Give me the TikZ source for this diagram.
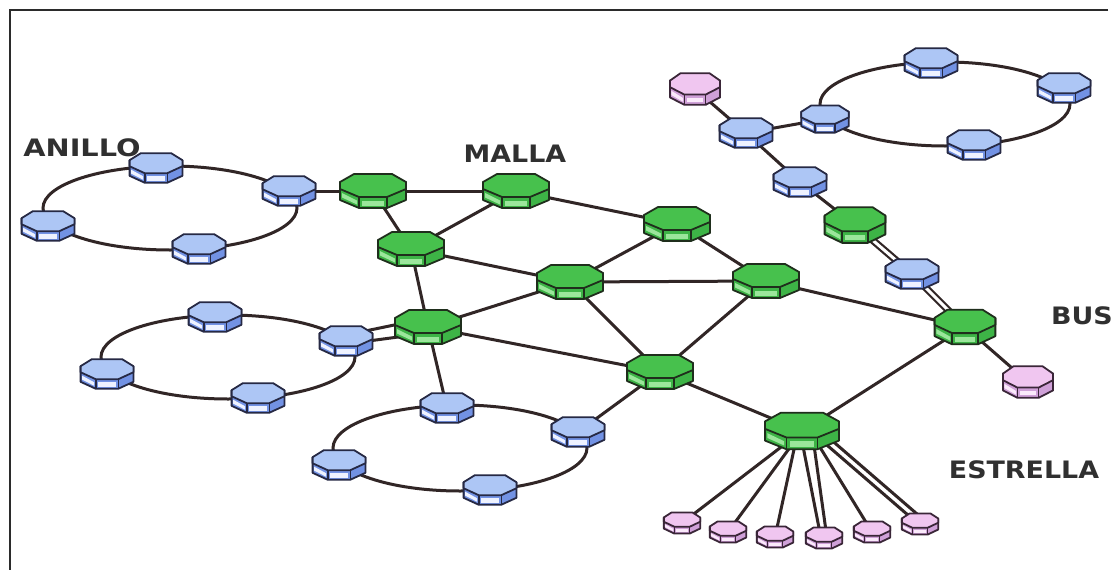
\documentclass[tikz,border=0pt]{standalone}
\usepackage{fontspec}
\setmainfont{DejaVu Sans}
\usetikzlibrary{calc}
\definecolor{edgec}{HTML}{312626}
\definecolor{framec}{HTML}{2B2B2B}
\definecolor{lblc}{HTML}{303030}
\definecolor{gtop}{HTML}{47C14D}
\definecolor{gband}{HTML}{3DB446}
\definecolor{gstripe}{HTML}{9BE69B}
\definecolor{gline}{HTML}{1F2E1C}
\definecolor{btop}{HTML}{ADC6F5}
\definecolor{bband}{HTML}{7292E4}
\definecolor{bstripe}{HTML}{EEF2FF}
\definecolor{bline}{HTML}{262944}
\definecolor{ptop}{HTML}{F0C6F0}
\definecolor{pband}{HTML}{CFA0D8}
\definecolor{pstripe}{HTML}{FBEAFB}
\definecolor{pline}{HTML}{3A2638}

\newcommand\devshape[4]{%
  \filldraw[fill=#2,draw=#4,line width=1.8pt,line join=round]
    (-33,-9) -- (33,-9) -- (33,9) -- (14,17) -- (-14,17) -- (-33,9) -- cycle;
  \fill[#3] (-11,9.5) rectangle (11,14.5);
  \fill[#3] (-31,2) -- (-16,9.5) -- (-16,13.5) -- (-31,6.5) -- cycle;
  \draw[#4,line width=1.4pt] (-14,6) -- (-14,17) (14,6) -- (14,17);
  \filldraw[fill=#1,draw=#4,line width=1.8pt,line join=round]
    (-19,-17) -- (19,-17) -- (33,-9) -- (33,-2) -- (14,6) -- (-14,6) -- (-33,-2) -- (-33,-9) -- cycle;
}
\newcommand\lab[2][1.12]{\scalebox{#1}[1]{#2}}

\tikzset{
  gdev/.pic={\devshape{gtop}{gband}{gstripe}{gline}},
  bdev/.pic={\devshape{btop}{bband}{bstripe}{bline}},
  pdev/.pic={\devshape{ptop}{pband}{pstripe}{pline}},
  edge/.style={draw=edgec,line width=3pt},
  ring/.style={draw=edgec,line width=3pt},
  dbl/.style={draw=edgec,line width=2.2pt,double=white,double distance=3pt},
  lbl/.style={font=\fontsize{24}{24}\selectfont\bfseries,text=lblc,inner sep=0pt},
  bsz/.style={xscale=0.8,yscale=0.87},
  psz/.style={xscale=0.55,yscale=0.62},
}

\begin{document}
\begin{tikzpicture}[x=1pt,y=-1pt]
\useasboundingbox (0,0) rectangle (1117,570);
\fill[white] (0,0) rectangle (1117,570);
\draw[framec,line width=2.5pt] (1108,10) -- (10,10) -- (10,570);

% coordinates
\coordinate (ca) at (170,208);
\coordinate (cb) at (228,357);
\coordinate (cc) at (460,448);
\coordinate (cd) at (945,104);

\coordinate (ra1) at (156,168);
\coordinate (ra2) at (289,191);
\coordinate (ra3) at (48,226);
\coordinate (ra4) at (199,249);

\coordinate (rb1) at (215,317);
\coordinate (rb2) at (346,341);
\coordinate (rb3) at (107,374);
\coordinate (rb4) at (258,398);

\coordinate (rc1) at (447,408);
\coordinate (rc2) at (578,432);
\coordinate (rc3) at (339,465);
\coordinate (rc4) at (490,490);

\coordinate (rd1) at (931,63);
\coordinate (rd2) at (1064,88);
\coordinate (rd3) at (825,119);
\coordinate (rd4) at (974,145);

\coordinate (g1) at (373,191);
\coordinate (g2) at (516,191);
\coordinate (g3) at (677,224);
\coordinate (g4) at (411,249);
\coordinate (g5) at (570,282);
\coordinate (g6) at (766,281);
\coordinate (g7) at (428,327);
\coordinate (g8) at (660,372);
\coordinate (g9) at (965,327);
\coordinate (g10) at (802,431);
\coordinate (g11) at (855,225);

\coordinate (pb1) at (695,89);
\coordinate (bb1) at (746,133);
\coordinate (bb2) at (800,182);
\coordinate (bb3) at (912,274);
\coordinate (pb2) at (1028,382);

\coordinate (s1) at (682,523);
\coordinate (s2) at (728,532);
\coordinate (s3) at (775,537);
\coordinate (s4) at (824,538);
\coordinate (s5) at (872,532);
\coordinate (s6) at (920,524);

% rings
\draw[ring] (ca) ellipse [x radius=127,y radius=42];
\draw[ring] (cb) ellipse [x radius=127,y radius=42];
\draw[ring] (cc) ellipse [x radius=127,y radius=43];
\draw[ring] (cd) ellipse [x radius=125,y radius=42];

% mesh
\draw[edge] (ra2) -- (g1);
\draw[edge] (g1) -- (g2);
\draw[edge] (g2) -- (g3);
\draw[edge] (g2) -- (g4);
\draw[edge] (g1) -- (g4);
\draw[edge] (g4) -- (g5);
\draw[edge] (g3) -- (g5);
\draw[edge] (g3) -- (g6);
\draw[edge] (g5) -- (g6);
\draw[edge] (g4) -- (g7);
\draw[edge] (g7) -- (g5);
\draw[edge] (g5) -- (g8);
\draw[edge] (g6) -- (g8);
\draw[edge] (g7) -- (g8);
\draw[edge] (g6) -- (g9);
\draw[edge] (g8) -- (g10);
\draw[edge] (g10) -- (g9);
\draw[edge] (g7) -- (rc1);
\draw[edge] (g8) -- (rc2);
\draw[edge] ([yshift=6pt]rb2) -- ([yshift=9pt]g7);
\draw[edge] ([yshift=-3pt]rb2) -- ([yshift=-6pt]g7);

% bus
\draw[edge] (pb1) -- (bb1);
\draw[edge] (bb1) -- (bb2);
\draw[edge] (bb1) -- (rd3);
\draw[edge] (bb2) -- (g11);
\draw[dbl] (g11) -- (bb3);
\draw[dbl] (bb3) -- (g9);
\draw[edge] (g9) -- (pb2);

% star
\draw[edge] (g10) -- (s1);
\draw[edge] (g10) -- (s2);
\draw[edge] ([xshift=-4pt]g10) -- (s3);
\draw[edge] ([xshift=-2pt]g10) -- ([xshift=-3pt]s4);
\draw[edge] ([xshift=10pt]g10) -- ([xshift=3pt]s4);
\draw[edge] ([xshift=8pt]g10) -- (s5);
\draw[edge] ([xshift=4pt,yshift=4pt]g10) -- ([xshift=-4pt,yshift=2pt]s6);
\draw[edge] ([xshift=12pt,yshift=6pt]g10) -- ([xshift=4pt,yshift=4pt]s6);

% devices
\foreach \n in {ra1,ra2,ra3,ra4,rb1,rb2,rb3,rb4,rc1,rc2,rc3,rc4,rd1,rd2,rd4,bb1,bb2,bb3}
  \pic[bsz] at (\n) {bdev};
\pic[xscale=0.72,yscale=0.8] at (rd3) {bdev};
\foreach \n in {g1,g2,g3,g4,g5,g6,g7,g8}
  \pic at (\n) {gdev};
\pic[xscale=0.92,yscale=1.05] at (g11) {gdev};
\pic[xscale=0.92,yscale=1.02] at (g9) {gdev};
\pic[xscale=1.12,yscale=1.07] at (g10) {gdev};
\pic[xscale=0.76,yscale=0.93] at (pb1) {pdev};
\pic[xscale=0.76,yscale=0.93] at (pb2) {pdev};
\foreach \n in {s1,s2,s3,s4,s5,s6}
  \pic[psz] at (\n) {pdev};

% labels
\node[lbl] (lanillo) at (82,148) {\lab[1.2]{ANILLO}};
\node[lbl] (lmalla) at (515,154) {\lab{MALLA}};
\node[lbl] (lbus) at (1082,316) {\lab{BUS}};
\node[lbl] (lestrella) at (1024,470) {\lab{ESTRELLA}};
\end{tikzpicture}
\end{document}
